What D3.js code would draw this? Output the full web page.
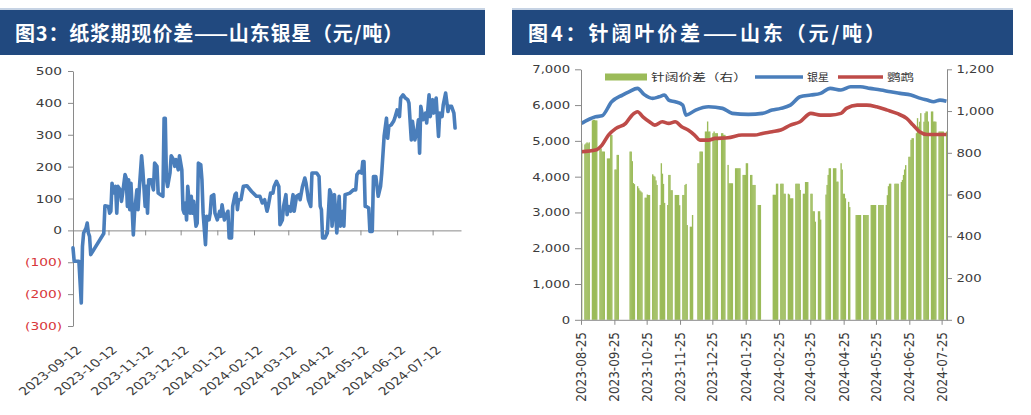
<!DOCTYPE html>
<html><head><meta charset="utf-8">
<script src="https://cdn.jsdelivr.net/npm/d3@7"></script>
<style>body{margin:0;background:#fff;} svg{display:block;}</style>
</head><body>
<svg id="c" width="1031" height="415"></svg>
<script>
// ---------------- DATA ----------------
const leftTitle = "图3：纸浆期现价差——山东银星（元/吨）";
const rightTitle = "图4：针阔叶价差——山东（元/吨）";

// Left chart: futures-spot basis (元/吨)
const basisDates = [
"2023-09-12","2023-09-13","2023-09-17","2023-09-19","2023-09-20","2023-09-21","2023-09-23","2023-09-24","2023-09-25","2023-09-26",
"2023-09-27","2023-10-08","2023-10-09","2023-10-12","2023-10-13","2023-10-14","2023-10-15","2023-10-16","2023-10-18","2023-10-19",
"2023-10-20","2023-10-22","2023-10-23","2023-10-24","2023-10-26","2023-10-27","2023-10-28","2023-10-29","2023-10-30","2023-10-31",
"2023-11-02","2023-11-03","2023-11-05","2023-11-06","2023-11-07","2023-11-09","2023-11-10","2023-11-12","2023-11-13","2023-11-14",
"2023-11-15","2023-11-17","2023-11-19","2023-11-20","2023-11-22","2023-11-23","2023-11-25","2023-11-27","2023-11-28","2023-11-29",
"2023-11-30","2023-12-01","2023-12-03","2023-12-04","2023-12-06","2023-12-07","2023-12-08","2023-12-10","2023-12-11","2023-12-13",
"2023-12-14","2023-12-15","2023-12-16","2023-12-17","2023-12-18","2023-12-20","2023-12-21","2023-12-22","2023-12-23","2023-12-25",
"2023-12-26","2023-12-27","2023-12-29","2023-12-30","2023-12-31","2024-01-02","2024-01-03","2024-01-05","2024-01-06","2024-01-07",
"2024-01-09","2024-01-10","2024-01-12","2024-01-14","2024-01-15","2024-01-16","2024-01-18","2024-01-19","2024-01-21","2024-01-22",
"2024-01-24","2024-01-25","2024-01-27","2024-01-28","2024-01-29","2024-01-30","2024-02-01","2024-02-03","2024-02-06","2024-02-10",
"2024-02-14","2024-02-17","2024-02-19","2024-02-21","2024-02-23","2024-02-24","2024-02-26","2024-02-28","2024-02-29","2024-03-02",
"2024-03-04","2024-03-05","2024-03-07","2024-03-08","2024-03-10","2024-03-11","2024-03-12","2024-03-14","2024-03-16","2024-03-17",
"2024-03-19","2024-03-21","2024-03-22","2024-03-24","2024-03-26","2024-03-27","2024-03-29","2024-03-31","2024-04-01","2024-04-05",
"2024-04-07","2024-04-08","2024-04-09","2024-04-10","2024-04-12","2024-04-14","2024-04-16","2024-04-17","2024-04-18","2024-04-20",
"2024-04-21","2024-04-22","2024-04-24","2024-04-25","2024-04-27","2024-04-28","2024-04-29","2024-05-03","2024-05-06","2024-05-08",
"2024-05-09","2024-05-11","2024-05-13","2024-05-14","2024-05-15","2024-05-16","2024-05-17","2024-05-19","2024-05-20","2024-05-22",
"2024-05-23","2024-05-25","2024-05-27","2024-05-29","2024-05-30","2024-06-01","2024-06-03","2024-06-04","2024-06-05","2024-06-07",
"2024-06-09","2024-06-10","2024-06-12","2024-06-14","2024-06-15","2024-06-17","2024-06-19","2024-06-21","2024-06-22","2024-06-24",
"2024-06-25","2024-06-27","2024-06-29","2024-06-30","2024-07-01","2024-07-02","2024-07-04","2024-07-06","2024-07-07","2024-07-09",
"2024-07-10","2024-07-12","2024-07-13","2024-07-15","2024-07-17","2024-07-18","2024-07-20","2024-07-21","2024-07-23","2024-07-25",
"2024-07-26","2024-07-28","2024-07-30","2024-07-31"];
const basisValues = [
-55,-97,-97,-228,-50,-8,7,23,-8,-19,
-76,-10,77,75,54,60,148,117,138,54,
138,127,91,117,175,164,75,159,65,148,
-14,54,127,65,127,234,190,75,138,54,
159,159,127,211,201,117,112,107,352,352,
159,138,180,234,222,201,222,190,234,190,
65,54,86,33,138,54,107,54,91,13,
23,211,206,159,54,-45,44,33,54,107,
112,54,33,60,44,80,33,44,60,-24,
-24,75,112,117,65,96,96,138,140,122,
107,107,86,96,60,75,117,117,138,154,
138,18,33,75,112,49,75,60,112,60,
107,112,96,138,164,148,96,75,180,180,
169,75,65,-24,-24,-8,127,117,13,112,
54,-8,107,13,60,13,112,117,127,127,
175,185,180,216,216,75,75,70,-3,-3,
169,169,107,138,180,295,352,289,326,331,
342,352,378,357,415,425,415,410,399,284,
342,284,316,347,242,389,347,368,337,425,
357,410,368,415,295,368,357,394,431,373,
389,389,368,321];
const basisXTicks = ["2023-09-12","2023-10-12","2023-11-12","2023-12-12","2024-01-12","2024-02-12",
                     "2024-03-12","2024-04-12","2024-05-12","2024-06-12","2024-07-12"];
const basisYTicks = [-300,-200,-100,0,100,200,300,400,500];

// Right chart: softwood-hardwood spread (bars, right axis), weekly rows Mon..Fri, from week of 2023-08-21
const spreadFirstMonday = "2023-08-21";
const spreadWeeks = [
[null,null,null,null,845],
[840,845,850,845,850],
[955,958,958,955,955],
[821,821,806,806,806],
[773,773,773,885,885],
[720,720,790,790,null],
[null,null,null,null,null],
[806,806,760,655,650],
[640,630,620,615,610],
[585,585,600,598,598],
[697,690,686,668,646],
[550,750,700,651,560],
[550,694,694,621,621],
[598,598,598,598,549],
[598,598,646,651,454],
[446,446,502,null,null],
[750,750,806,806,806],
[902,902,950,902,902],
[894,902,894,894,894],
[null,894,894,886,886],
[742,654,654,654,654],
[726,726,726,726,726],
[694,694,694,750,750],
[694,694,646,646,646],
[550,550,550,null,null],
[null,null,null,null,null],
[599,599,599,652,652],
[652,652,652,604,604],
[604,600,582,582,582],
[652,652,652,652,622],
[604,604,660,660,660],
[604,604,520,520,470],
[520,520,480,null,null],
[600,646,694,726,726],
[726,726,726,662,662],
[750,720,604,604,582],
[565,540,null,null,null],
[502,502,502,502,502],
[502,502,502,502,502],
[550,550,550,550,550],
[550,550,550,550,550],
[550,597,640,652,652],
[null,652,652,652,652],
[660,670,694,720,741],
[781,781,862,870,870],
[894,966,925,949,990],
[949,990,998,998,950],
[998,998,950,950,949],
[902,902,902,902,902],
[902,null,null,null,null]];

// 银星 (softwood) price, left axis
const yinxingDates = ["2023-08-25","2023-09-07","2023-09-13","2023-09-22","2023-10-02","2023-10-08","2023-10-16","2023-10-22",
"2023-10-30","2023-11-05","2023-11-10","2023-11-14","2023-11-20","2023-11-27","2023-11-30","2023-12-09","2023-12-21",
"2024-01-03","2024-01-12","2024-01-27","2024-02-09","2024-02-18","2024-02-26","2024-03-06","2024-03-15","2024-03-25",
"2024-04-03","2024-04-12","2024-04-22","2024-05-01","2024-05-10","2024-05-19","2024-05-29","2024-06-07","2024-06-16",
"2024-06-26","2024-07-05","2024-07-11","2024-07-17","2024-07-23","2024-07-29"];
const yinxingValues = [5490,5673,5700,6092,6280,6371,6467,6300,6187,6232,6280,6140,6092,6000,5720,5860,5953,
5908,5768,5740,5768,5860,5908,6000,6232,6280,6327,6467,6420,6511,6511,6467,6420,6371,6327,6280,6187,6140,6092,6140,6110];

// 鹦鹉 (hardwood) price, left axis
const yingwuDates = ["2023-08-25","2023-09-07","2023-09-13","2023-09-19","2023-09-26","2023-10-05","2023-10-11","2023-10-16",
"2023-10-21","2023-10-27","2023-11-01","2023-11-08","2023-11-14","2023-11-20","2023-11-26","2023-12-02","2023-12-08",
"2023-12-13","2023-12-21","2023-12-27","2024-01-08","2024-01-21","2024-02-02","2024-02-09","2024-02-18","2024-02-26",
"2024-03-06","2024-03-15","2024-03-25","2024-04-03","2024-04-12","2024-04-22","2024-04-27","2024-05-07","2024-05-16",
"2024-05-25","2024-06-04","2024-06-13","2024-06-22","2024-06-28","2024-07-04","2024-07-11","2024-07-17","2024-07-29"];
const yingwuValues = [4696,4743,4883,5162,5349,5489,5720,5813,5673,5534,5441,5534,5489,5534,5394,5302,5162,
5022,5022,5069,5087,5162,5162,5209,5255,5302,5441,5534,5768,5720,5720,5768,5908,6000,6000,5953,5860,5768,5629,5441,5255,5180,5180,5180];

const spreadXTicks = ["2023-08-25","2023-09-25","2023-10-25","2023-11-25","2023-12-25","2024-01-25",
                      "2024-02-25","2024-03-25","2024-04-25","2024-05-25","2024-06-25","2024-07-25"];
const priceTicks = [0,1000,2000,3000,4000,5000,6000,7000];
const spreadTicks = [0,200,400,600,800,1000,1200];
const legendLabels = ["针阔价差（右）","银星","鹦鹉"];

// ---------------- DRAW ----------------
const parse = d3.timeParse("%Y-%m-%d");
const svg = d3.select("#c");
const FNUM = "'DejaVu Sans', sans-serif";
const FCJK = "'Noto Sans CJK SC', sans-serif";
const AXIS = "#8a8a8a", LABEL = "#3c3c3c", NEG = "#d8363a";
const BLUE = "#4A7EBB", RED = "#BE4B48", GREEN = "#9BBB59", BAR = "#21497f";

function titleBar(x0, x1, text, tx, tlen) {
  svg.append("rect").attr("x", x0).attr("y", 10).attr("width", x1 - x0).attr("height", 45).attr("fill", BAR);
  svg.append("rect").attr("x", x0).attr("y", 8).attr("width", x1 - x0).attr("height", 2).attr("fill", "#c6d3e4");
  svg.append("text").attr("x", tx).attr("y", 40.5).attr("fill", "#fff")
    .attr("font-family", FCJK).attr("font-weight", 700).attr("font-size", 20)
    .attr("textLength", tlen).attr("lengthAdjust", "spacing").text(text);
}
titleBar(0, 485, leftTitle, 15, 388);
titleBar(512, 1013, rightTitle, 528, 357);

function styleAxis(g, sx, tx, anchor, colorFn) {
  g.select(".domain").attr("stroke", AXIS);
  g.selectAll(".tick line").attr("stroke", AXIS);
  g.selectAll(".tick text").attr("font-family", FNUM).attr("font-size", 11)
    .attr("fill", colorFn || LABEL).attr("text-anchor", anchor)
    .attr("x", tx / sx).attr("transform", `scale(${sx},1)`);
}

// ----- Left chart -----
const xL = d3.scaleTime().domain([parse("2023-09-12"), parse("2024-08-05")]).range([73, 461]);
const yL = d3.scaleLinear().domain([-300, 500]).range([326, 71]);

const gyL = svg.append("g").attr("transform", "translate(73,0)")
  .call(d3.axisLeft(yL).tickValues(basisYTicks).tickSize(5).tickSizeOuter(0)
    .tickFormat(v => v < 0 ? `(${-v})` : `${v}`));
styleAxis(gyL, 1.25, -11, "end", v => v < 0 ? NEG : LABEL);

const gxL = svg.append("g").attr("transform", `translate(0,${yL(0)})`)
  .call(d3.axisBottom(xL).tickValues(basisXTicks.map(parse)).tickSize(5).tickSizeOuter(0).tickFormat(""));
gxL.select(".domain").attr("stroke", AXIS);
gxL.selectAll(".tick line").attr("stroke", AXIS);

svg.append("g").selectAll("text").data(basisXTicks).join("text")
  .attr("transform", d => `translate(${xL(parse(d)) + 6},348) scale(1.28,1) rotate(-45)`)
  .attr("text-anchor", "end").attr("dy", "0.35em")
  .attr("font-family", FNUM).attr("font-size", 11).attr("fill", LABEL).text(d => d);

const lineL = d3.line().x((d, i) => xL(parse(basisDates[i]))).y(d => yL(d));
svg.append("path").datum(basisValues).attr("d", lineL).attr("fill", "none")
  .attr("stroke", BLUE).attr("stroke-width", 3.6).attr("stroke-linejoin", "round").attr("stroke-linecap", "round");

// ----- Right chart -----
const xR = d3.scaleTime().domain([parse("2023-08-25"), parse("2024-07-30")]).range([581, 947]);
const yR = d3.scaleLinear().domain([0, 7000]).range([319.8, 69.3]);
const yR2 = d3.scaleLinear().domain([0, 1200]).range([319.8, 69.3]);

const monday = parse(spreadFirstMonday);
const bars = [];
spreadWeeks.forEach((wk, w) => wk.forEach((v, i) => {
  if (v != null) bars.push({ date: d3.timeDay.offset(monday, w * 7 + i), v });
}));
svg.append("g").selectAll("rect").data(bars).join("rect")
  .attr("x", d => xR(d.date))
  .attr("width", d => xR(d3.timeDay.offset(d.date, 1)) - xR(d.date) + 0.3)
  .attr("y", d => yR2(d.v)).attr("height", d => yR2(0) - yR2(d.v))
  .attr("fill", GREEN);

const halfDay = d => d3.timeHour.offset(parse(d), 12);
function priceLine(dates, values, color) {
  const ln = d3.line().x((d, i) => xR(halfDay(dates[i]))).y(d => yR(d)).curve(d3.curveMonotoneX);
  svg.append("path").datum(values).attr("d", ln).attr("fill", "none")
    .attr("stroke", color).attr("stroke-width", 3.6).attr("stroke-linejoin", "round");
}
priceLine(yinxingDates, yinxingValues, BLUE);
priceLine(yingwuDates, yingwuValues, RED);

const gyR = svg.append("g").attr("transform", "translate(581,0)")
  .call(d3.axisLeft(yR).tickValues(priceTicks).tickSize(6).tickSizeOuter(0).tickFormat(d3.format(",")));
styleAxis(gyR, 1.2, -11, "end");
const gyR2 = svg.append("g").attr("transform", "translate(947,0)")
  .call(d3.axisRight(yR2).tickValues(spreadTicks).tickSize(5).tickSizeOuter(0).tickFormat(d3.format(",")));
styleAxis(gyR2, 1.2, 9.5, "start");
const gxR = svg.append("g").attr("transform", `translate(0,${yR(0)})`)
  .call(d3.axisBottom(xR).tickValues(spreadXTicks.map(parse)).tickSize(5).tickSizeOuter(0).tickFormat(""));
gxR.select(".domain").attr("stroke", AXIS);
gxR.selectAll(".tick line").attr("stroke", AXIS);

svg.append("g").selectAll("text").data(spreadXTicks).join("text")
  .attr("transform", d => `translate(${xR(parse(d))},332) scale(1.2,1) rotate(-90)`)
  .attr("text-anchor", "end").attr("dy", "0.35em")
  .attr("font-family", FNUM).attr("font-size", 12).attr("fill", LABEL).text(d => d);

// legend
const lg = svg.append("g");
lg.append("rect").attr("x", 605).attr("y", 73.5).attr("width", 42).attr("height", 7).attr("fill", GREEN);
lg.append("text").attr("x", 651).attr("y", 80.5).attr("font-family", FCJK).attr("font-size", 10.5)
  .attr("fill", "#333").attr("textLength", 96).attr("lengthAdjust", "spacingAndGlyphs").text(legendLabels[0]);
lg.append("line").attr("x1", 755).attr("x2", 803).attr("y1", 77).attr("y2", 77).attr("stroke", BLUE).attr("stroke-width", 3.6);
lg.append("text").attr("x", 807).attr("y", 80.5).attr("font-family", FCJK).attr("font-size", 10.5)
  .attr("fill", "#333").attr("textLength", 22).attr("lengthAdjust", "spacingAndGlyphs").text(legendLabels[1]);
lg.append("line").attr("x1", 838).attr("x2", 883).attr("y1", 77).attr("y2", 77).attr("stroke", RED).attr("stroke-width", 3.6);
lg.append("text").attr("x", 887).attr("y", 80.5).attr("font-family", FCJK).attr("font-size", 10.5)
  .attr("fill", "#333").attr("textLength", 27).attr("lengthAdjust", "spacingAndGlyphs").text(legendLabels[2]);
</script>
</body></html>
